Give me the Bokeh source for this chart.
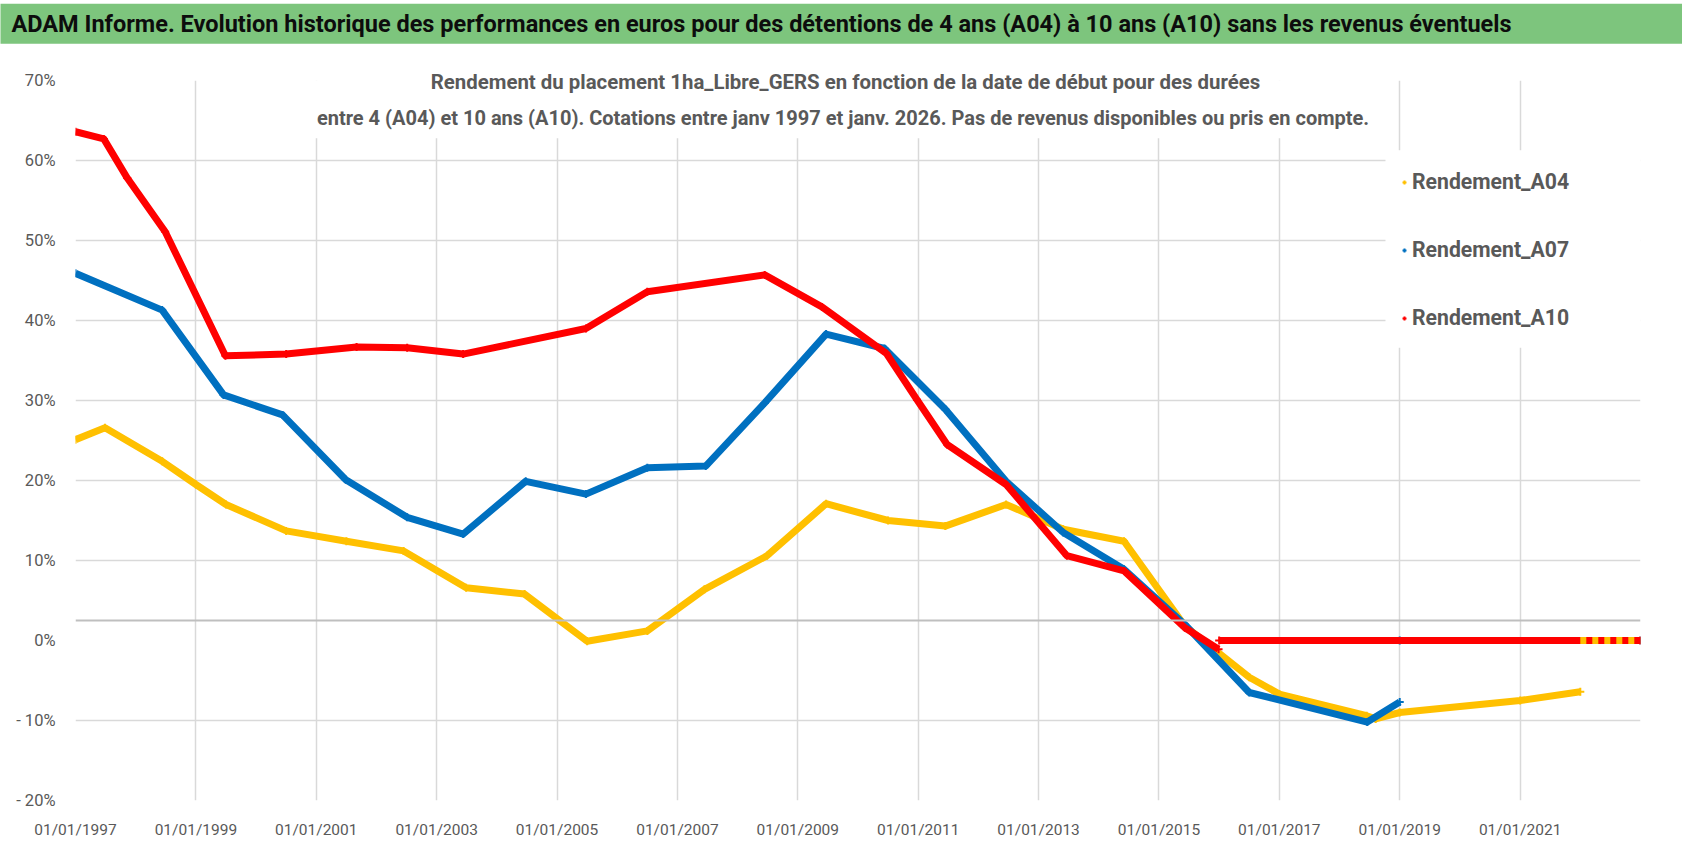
from bokeh.plotting import figure
from bokeh.models import (FixedTicker, PrintfTickFormatter, Span, BoxAnnotation,
                          Label, Legend, LegendItem, Range1d)
from bokeh.embed import file_html
from bokeh.resources import INLINE

nan = float("nan")

# ---------------- data ----------------
a04_years = [1997.0, 1997.49, 1998.44, 1999.0, 1999.5, 2000.5, 2001.5, 2002.45,
             2003.49, 2004.46, 2005.5, 2006.5, 2007.45, 2008.49, 2009.47, 2010.5,
             2011.45, 2012.46, 2013.41, 2014.42, 2015.43, 2016.5, 2017.0, 2018.45,
             2018.6, 2019.0, 2021.0, 2022.0]
a04_values = [25.1, 26.6, 22.4, 19.5, 17.0, 13.7, 12.4, 11.2,
              6.6, 5.8, -0.1, 1.2, 6.4, 10.6, 17.1, 15.0,
              14.3, 17.0, 13.9, 12.4, 1.8, -4.6, -6.7, -9.4,
              -9.8, -9.0, -7.5, -6.4]
a04_tail_years = [2022.0, 2023.0]
a04_tail_values = [0.0, 0.0]

a07_years = [1997.0, 1998.44, 1999.46, 2000.44, 2001.49, 2002.51, 2003.44, 2004.48,
             2005.48, 2006.5, 2007.47, 2008.45, 2009.47, 2010.44, 2011.45, 2012.46,
             2013.41, 2014.42, 2015.43, 2016.5, 2018.46, 2019.0, nan, 2019.0, 2023.0]
a07_values = [45.9, 41.3, 30.7, 28.2, 20.1, 15.4, 13.3, 19.9,
              18.3, 21.6, 21.8, 29.7, 38.3, 36.5, 28.9, 19.9,
              13.5, 8.9, 2.0, -6.5, -10.2, -7.7, nan, 0.0, 0.0]

a10_years = [1997.0, 1997.47, 1997.86, 1998.49, 1999.49, 2000.5, 2001.67, 2002.51,
             2003.44, 2005.48, 2006.5, 2008.45, 2009.4, 2010.47, 2010.98, 2011.48,
             2012.46, 2013.47, 2014.42, 2015.43, 2015.99, nan, 2016.0, 2023.0]
a10_values = [63.6, 62.7, 57.8, 51.1, 35.6, 35.8, 36.7, 36.6,
              35.8, 39.0, 43.6, 45.7, 41.7, 35.9, 30.1, 24.5,
              19.5, 10.6, 8.7, 1.6, -1.1, nan, 0.0, 0.0]

series_names = ["Rendement_A04", "Rendement_A07", "Rendement_A10"]
x_tick_years = [1997, 1999, 2001, 2003, 2005, 2007, 2009, 2011, 2013, 2015, 2017, 2019, 2021]
y_ticks = [-20, -10, 0, 10, 20, 30, 40, 50, 60, 70]
y_tick_labels = ["- 20%", "- 10%", "0%", "10%", "20%", "30%", "40%", "50%", "60%", "70%"]
axis_cross_value = 2.5

title_text = ("ADAM Informe. Evolution historique des performances en euros pour des "
              "détentions de 4 ans (A04) à 10 ans (A10) sans les revenus éventuels")
subtitle_1 = "Rendement du placement 1ha_Libre_GERS en fonction de la date de début pour des durées"
subtitle_2 = ("entre 4 (A04) et 10 ans (A10).  Cotations entre janv 1997 et janv. 2026. "
              "Pas de revenus disponibles ou pris en compte.")

# ---------------- layout ----------------
W, H = 1682, 841
FL, FT, FR, FB = 75, 80, 42, 39
X0, X1 = 1997, 2023
Y0, Y1 = -20, 70
PPX = (W - FL - FR) / (X1 - X0)
PPY = (H - FT - FB) / (Y1 - Y0)


def fx(rx):
    return X0 + (rx - FL) / PPX


def fy(ry):
    return Y1 - (ry - FT) / PPY


FONT = "Roboto"
GREY = "#595959"

p = figure(width=W, height=H, output_backend="svg", toolbar_location=None, title=None,
           x_range=Range1d(X0, X1), y_range=Range1d(Y0, Y1),
           min_border_left=FL, min_border_top=FT, min_border_right=FR, min_border_bottom=FB,
           background_fill_color="white", border_fill_color="white")
p.outline_line_color = None

p.xaxis.ticker = FixedTicker(ticks=x_tick_years)
p.xaxis.formatter = PrintfTickFormatter(format="01/01/%d")
p.yaxis.ticker = FixedTicker(ticks=y_ticks)
p.yaxis.major_label_overrides = dict(zip(y_ticks, y_tick_labels))
for ax in p.axis:
    ax.axis_line_color = None
    ax.major_tick_line_color = None
    ax.minor_tick_line_color = None
    ax.major_label_text_font = FONT
    ax.major_label_text_color = GREY
p.xaxis.major_label_text_font_size = "15.5px"
p.yaxis.major_label_text_font_size = "16.5px"
p.xaxis.major_label_standoff = 14
p.yaxis.major_label_standoff = 14

p.xgrid.ticker = FixedTicker(ticks=x_tick_years)
p.ygrid.ticker = FixedTicker(ticks=[t for t in y_ticks if t != 0])
for g in (p.xgrid, p.ygrid):
    g.grid_line_color = "#d9d9d9"
    g.grid_line_width = 1.5

# white boxes (drawn just above the grid) behind the subtitle and the legend
p.add_layout(BoxAnnotation(left=fx(313), right=fx(1377), top=fy(60), bottom=fy(138),
                           fill_color="white", fill_alpha=1.0, line_color=None, level="underlay"))
p.add_layout(BoxAnnotation(left=fx(1385), right=fx(1645), top=fy(150), bottom=fy(348),
                           fill_color="white", fill_alpha=1.0, line_color=None, level="underlay"))

p.add_layout(Span(location=axis_cross_value, dimension="width",
                  line_color="#bfbfbf", line_width=2))

colors = ["#FFC000", "#0070C0", "#FF0000"]
data = [(a04_years, a04_values), (a07_years, a07_values), (a10_years, a10_values)]
markers = []
for (xs, ys), c in zip(data, colors):
    p.line(xs, ys, line_color=c, line_width=7, line_join="round")
    markers.append(p.scatter(xs, ys, marker="cross", size=8, line_color=c, line_width=2))
p.line(a04_tail_years, a04_tail_values, line_color=colors[0], line_width=7, line_dash="6 6")

legend = Legend(items=[LegendItem(label=n, renderers=[r]) for n, r in zip(series_names, markers)],
                location=(1399 - FL, 470),
                padding=20, spacing=43, glyph_width=10, glyph_height=20, label_height=20,
                label_standoff=3, margin=0,
                label_text_font=FONT, label_text_font_size="21.2px", label_text_font_style="bold",
                label_text_color=GREY, background_fill_color="white", background_fill_alpha=1.0,
                border_line_color=None)
p.add_layout(legend)

p.add_layout(Label(x=fx(845), y=fy(118), text=subtitle_2, text_align="center", text_baseline="middle",
                   text_font=FONT, text_font_size="20px", text_font_style="bold", text_color=GREY))

# texts outside the frame (side panel -> not clipped)
p.add_layout(Label(x=fx(0), y=fy(23), text=title_text, text_align="left", text_baseline="middle",
                   text_font=FONT, text_font_size="23.5px", text_font_style="bold", text_color="#0d0d0d",
                   background_fill_color="#7dc57d", background_fill_alpha=1.0,
                   padding=dict(left=11, right=420, top=6, bottom=6)), "above")
p.add_layout(Label(x=fx(845), y=fy(82), text=subtitle_1, text_align="center", text_baseline="middle",
                   text_font=FONT, text_font_size="20.4px", text_font_style="bold", text_color=GREY), "above")

open("out.html", "w").write(file_html(p, INLINE))
